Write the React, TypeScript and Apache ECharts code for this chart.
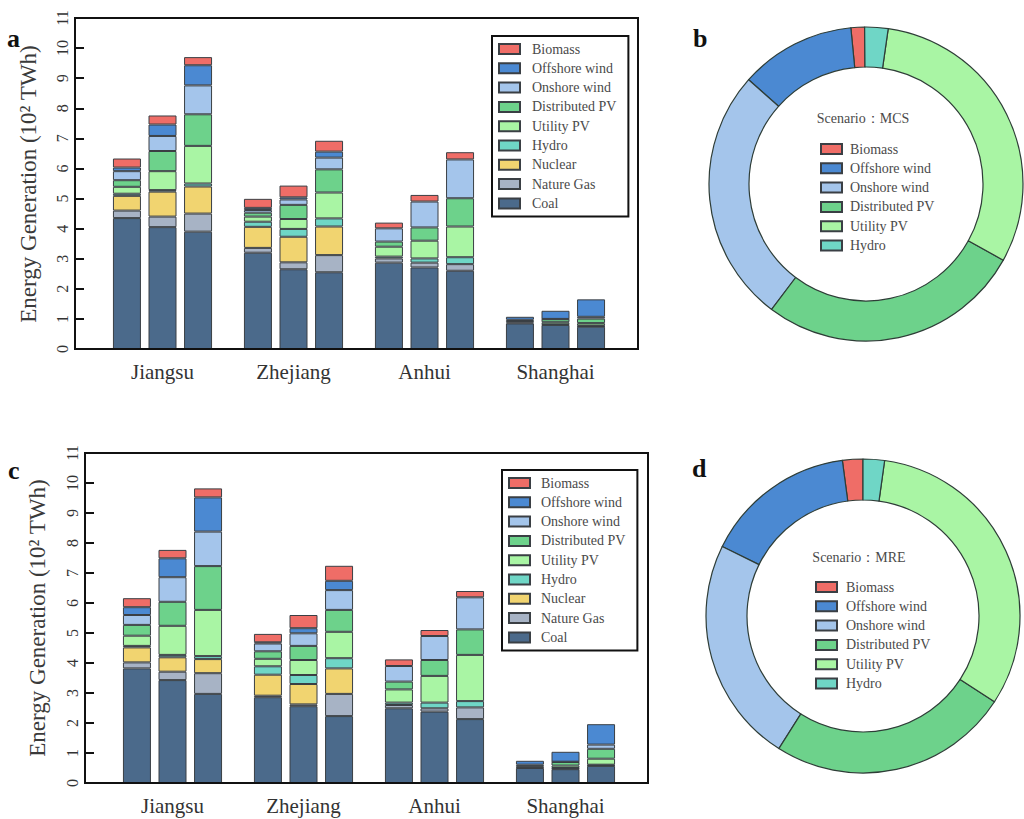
import React, { useEffect, useRef } from 'react';
import * as echarts from 'echarts';

const provinces = ['Jiangsu', 'Zhejiang', 'Anhui', 'Shanghai'];
const energyTypes = ['Coal', 'Nature Gas', 'Nuclear', 'Hydro', 'Utility PV', 'Distributed PV', 'Onshore wind', 'Offshore wind', 'Biomass'];
const legendOrder = [...energyTypes].reverse();
const pieTypes = ['Biomass', 'Offshore wind', 'Onshore wind', 'Distributed PV', 'Utility PV', 'Hydro'];

// Panel a (MCS): values per province, three bars each (10^2 TWh)
const aCoal = [4.35, 4.05, 3.9, 3.2, 2.65, 2.55, 2.87, 2.71, 2.6, 0.85, 0.8, 0.74];
const aGas = [0.25, 0.35, 0.6, 0.16, 0.23, 0.57, 0.14, 0.16, 0.22, 0.03, 0.02, 0.02];
const aNuclear = [0.49, 0.83, 0.9, 0.7, 0.85, 0.95, 0, 0, 0, 0, 0, 0];
const aHydro = [0.07, 0.05, 0.1, 0.17, 0.26, 0.27, 0.06, 0.14, 0.23, 0, 0, 0.02];
const aUtility = [0.23, 0.63, 1.25, 0.17, 0.33, 0.86, 0.33, 0.59, 1.02, 0.05, 0.07, 0.08];
const aDistributed = [0.22, 0.67, 1.05, 0.13, 0.47, 0.77, 0.17, 0.44, 0.94, 0.04, 0.1, 0.15];
const aOnshore = [0.3, 0.5, 0.96, 0.09, 0.18, 0.39, 0.44, 0.86, 1.29, 0, 0.01, 0.06];
const aOffshore = [0.12, 0.38, 0.67, 0.07, 0.07, 0.2, 0, 0, 0, 0.1, 0.27, 0.58];
const aBiomass = [0.3, 0.3, 0.27, 0.3, 0.39, 0.36, 0.19, 0.22, 0.24, 0, 0, 0];

// Panel c (MRE)
const cCoal = [3.82, 3.43, 2.97, 2.86, 2.56, 2.23, 2.49, 2.38, 2.13, 0.5, 0.46, 0.57];
const cGas = [0.2, 0.28, 0.69, 0.05, 0.06, 0.74, 0.11, 0.11, 0.39, 0.02, 0.02, 0.02];
const cNuclear = [0.5, 0.48, 0.47, 0.7, 0.68, 0.85, 0, 0, 0, 0, 0, 0];
const cHydro = [0.05, 0.08, 0.1, 0.28, 0.3, 0.34, 0.08, 0.19, 0.21, 0, 0.02, 0.02];
const cUtility = [0.34, 0.97, 1.54, 0.25, 0.5, 0.88, 0.44, 0.89, 1.54, 0.04, 0.08, 0.2];
const cDistributed = [0.36, 0.8, 1.46, 0.25, 0.47, 0.73, 0.26, 0.53, 0.85, 0.05, 0.12, 0.33];
const cOnshore = [0.33, 0.82, 1.15, 0.26, 0.42, 0.66, 0.52, 0.8, 1.07, 0, 0.01, 0.14];
const cOffshore = [0.26, 0.63, 1.14, 0.04, 0.17, 0.31, 0, 0, 0, 0.13, 0.33, 0.68];
const cBiomass = [0.3, 0.28, 0.3, 0.28, 0.44, 0.5, 0.22, 0.2, 0.21, 0, 0, 0];

// Donut shares (%), in pieTypes order
const mcsShare = [1.4, 11.9, 26.3, 27.2, 30.8, 2.4];
const mreShare = [2.1, 15.6, 23.3, 24.8, 32.0, 2.2];

const colors: Record<string, string> = {
  'Coal': '#4b6a8b',
  'Nature Gas': '#a7b3c5',
  'Nuclear': '#f1d470',
  'Hydro': '#6fd6c6',
  'Utility PV': '#a9f5a4',
  'Distributed PV': '#6dd28b',
  'Onshore wind': '#a4c5eb',
  'Offshore wind': '#4b89d2',
  'Biomass': '#ef6d67',
};

const SERIF = "'Liberation Serif', 'Times New Roman', serif";
const BORDER = '#3a3f44';

function buildBars(prefix: string, arrays: number[][], axisIndex: number) {
  const out: any[] = [];
  for (let k = 0; k < 3; k++) {
    energyTypes.forEach((t, j) => {
      const arr = arrays[j];
      out.push({
        type: 'bar',
        name: t,
        stack: prefix + k,
        xAxisIndex: axisIndex,
        yAxisIndex: axisIndex,
        barWidth: 28,
        barGap: '27%',
        data: provinces.map((_, p) => {
          const v = arr[p * 3 + k];
          return v > 0 ? v : null;
        }),
        itemStyle: { color: colors[t], borderColor: BORDER, borderWidth: 1 },
        emphasis: { disabled: true },
      });
    });
  }
  return out;
}

function legendFor(left: number, top: number, data: string[], boxed: boolean, textPad: number) {
  return {
    orient: 'vertical',
    left,
    top,
    data,
    icon: 'rect',
    itemWidth: 21,
    itemHeight: 10,
    itemGap: 5.3,
    padding: boxed ? [6, 12, 6, 6] : 0,
    borderColor: '#111',
    borderWidth: boxed ? 2 : 0,
    selectedMode: false,
    textStyle: { fontFamily: SERIF, fontSize: 14, color: '#4a4a4a', lineHeight: 14, padding: [0, 0, 0, textPad] },
  };
}

function App() {
  const ref = useRef<HTMLDivElement>(null);
  useEffect(() => {
    if (!ref.current) return;
    const chart = echarts.init(ref.current, null, { renderer: 'svg' });
    const aArrays = [aCoal, aGas, aNuclear, aHydro, aUtility, aDistributed, aOnshore, aOffshore, aBiomass];
    const cArrays = [cCoal, cGas, cNuclear, cHydro, cUtility, cDistributed, cOnshore, cOffshore, cBiomass];

    const xAxisBase = (gridIndex: number) => ({
      type: 'category',
      gridIndex,
      data: provinces,
      axisLine: { show: false },
      axisTick: { show: false },
      axisLabel: { fontFamily: SERIF, fontSize: 21, color: '#333', margin: 12 },
    });
    const yAxisBase = (gridIndex: number) => ({
      type: 'value',
      gridIndex,
      min: 0,
      max: 11,
      interval: 1,
      offset: 22,
      axisLine: { show: true, lineStyle: { color: '#111', width: 2 } },
      axisTick: { show: true, inside: true, length: 9, lineStyle: { color: '#111', width: 2 } },
      splitLine: { show: false },
      axisLabel: { fontFamily: SERIF, fontSize: 16, color: '#333', rotate: 90, margin: 5 },
    });

    const pieCommon = {
      type: 'pie',
      clockwise: false,
      label: { show: false },
      labelLine: { show: false },
      emphasis: { disabled: true },
      itemStyle: { borderColor: '#2e3d37', borderWidth: 1.2 },
    };

    const textEl = (x: number, y: number, text: string, opts: any = {}) => ({
      type: 'text',
      x,
      y,
      rotation: opts.rotation || 0,
      style: {
        text,
        fontFamily: SERIF,
        fontSize: opts.fontSize || 14,
        fontWeight: opts.fontWeight || 'normal',
        fill: opts.fill || '#333',
        align: opts.align || 'center',
        verticalAlign: opts.verticalAlign || 'middle',
      },
    });

    chart.setOption({
      animation: false,
      backgroundColor: '#fff',
      grid: [
        { left: 97, top: 18, width: 524, height: 331 },
        { left: 107, top: 453, width: 524, height: 330 },
      ],
      xAxis: [xAxisBase(0), xAxisBase(1)],
      yAxis: [yAxisBase(0), yAxisBase(1)],
      legend: [
        legendFor(492, 36, legendOrder, true, 7),
        legendFor(502, 470, legendOrder, true, 6),
        legendFor(820, 142, pieTypes, false, 3),
        legendFor(815, 580, pieTypes, false, 4),
      ],
      series: [
        ...buildBars('a', aArrays, 0),
        ...buildBars('c', cArrays, 1),
        {
          ...pieCommon,
          center: [866, 184],
          radius: [117, 157],
          startAngle: 90.5,
          data: pieTypes.map((t, i) => ({ name: t, value: mcsShare[i], itemStyle: { color: colors[t] } })),
        },
        {
          ...pieCommon,
          center: [863, 616],
          radius: [116, 157],
          startAngle: 90,
          data: pieTypes.map((t, i) => ({ name: t, value: mreShare[i], itemStyle: { color: colors[t] } })),
        },
      ],
      graphic: [
        { type: 'rect', shape: { x: 75, y: 18, width: 563, height: 331 }, style: { fill: 'none', stroke: '#111', lineWidth: 2 }, z: 10 },
        { type: 'rect', shape: { x: 85, y: 453, width: 563, height: 330 }, style: { fill: 'none', stroke: '#111', lineWidth: 2 }, z: 10 },
        textEl(28, 184, 'Energy Generation (10² TWh)', { rotation: Math.PI / 2, fontSize: 23, fill: '#3a3a3a' }),
        textEl(37, 618, 'Energy Generation (10² TWh)', { rotation: Math.PI / 2, fontSize: 23, fill: '#3a3a3a' }),
        textEl(863, 118, 'Scenario：MCS', { fontSize: 14, fill: '#4a4a4a' }),
        textEl(859, 557, 'Scenario：MRE', { fontSize: 14, fill: '#4a4a4a' }),
        textEl(7, 25, 'a', { fontSize: 26, fontWeight: 'bold', fill: '#111', align: 'left', verticalAlign: 'alphabetic' }),
        textEl(693, 25, 'b', { fontSize: 26, fontWeight: 'bold', fill: '#111', align: 'left', verticalAlign: 'alphabetic' }),
        textEl(8, 457, 'c', { fontSize: 26, fontWeight: 'bold', fill: '#111', align: 'left', verticalAlign: 'alphabetic' }),
        textEl(692, 455, 'd', { fontSize: 26, fontWeight: 'bold', fill: '#111', align: 'left', verticalAlign: 'alphabetic' }),
      ],
    });
    return () => chart.dispose();
  }, []);
  return <div ref={ref} style={{ position: 'fixed', left: 0, top: 0, width: 1024, height: 819, background: '#fff' }} />;
}

export default App;
